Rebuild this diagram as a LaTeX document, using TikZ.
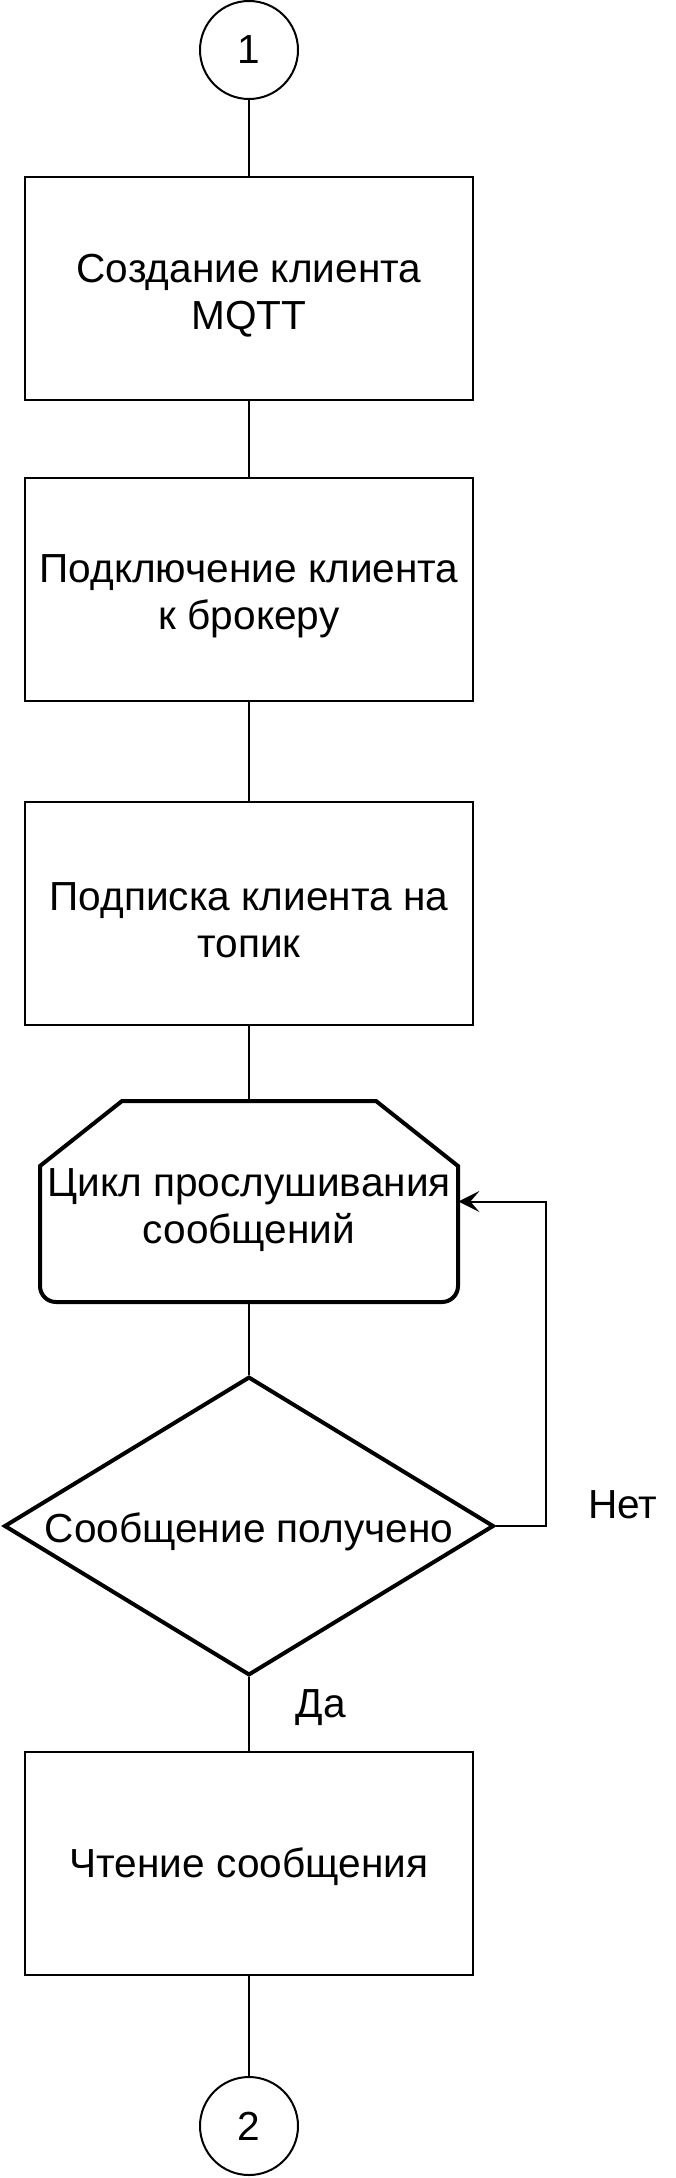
\documentclass[tikz,border=0pt]{standalone}
\usepackage{fontspec}
\setmainfont{Liberation Sans}
\usetikzlibrary{shapes.geometric,arrows.meta}
\newcommand{\lift}[1]{\rule{0pt}{#1}}

\begin{document}
\begin{tikzpicture}[x=0.5pt,y=-0.5pt,
    font=\fontsize{20.3}{23.5}\selectfont,
    block/.style={draw, rectangle, line width=1pt, minimum width=224pt, minimum height=111.5pt, align=center, inner sep=0pt},
    conn/.style={draw, circle, line width=1pt, minimum size=49pt, inner sep=0pt},
    link/.style={line width=1pt}]
    \useasboundingbox (0,0) rectangle (675,2178);
    % connectors 1 and 2
    \node[conn] (c1) at (249,50) {1};
    \node[conn] (c2) at (249,2126) {2};
    % steps
    \node[block] (create) at (249,288.5) {\lift{21pt}Создание клиента\\MQTT};
    \node[block] (connect) at (249,589) {\lift{21pt}Подключение клиента\\к брокеру};
    \node[block] (sub) at (249,913.5) {\lift{21pt}Подписка клиента на\\топик};
    \node[block] (read) at (249,1863.5) {\lift{18pt}Чтение сообщения};
    % loop limit
    \node[minimum width=209pt, minimum height=100.5pt, align=center, inner sep=0pt] (loop) at (249,1201.5) {\lift{23pt}Цикл прослушивания\\сообщений};
    \draw[line width=2pt] (40,1166) -- (122,1101) -- (376,1101) -- (458,1166) -- (458,1230)
        [rounded corners=8pt] -- (458,1302) -- (40,1302) -- (40,1230) [sharp corners] -- cycle;
    % decision
    \node[diamond, draw, line width=2pt, minimum width=243pt, minimum height=149pt, aspect=1.64, inner sep=0pt] (recv) at (249,1526) {\lift{20.5pt}Сообщение получено};
    \node (no) at (623,1505) {Нет};
    \node (yes) at (321,1708) {Да};
    \draw[link] (c1) -- (create);
    \draw[link] (create) -- (connect);
    \draw[link] (connect) -- (sub);
    \draw[link] (sub) -- (loop);
    \draw[link] (loop) -- (recv);
    \draw[link] (recv) -- (read);
    \draw[link] (read) -- (c2);
    \draw[link, -{Stealth[length=10.5pt, width=10.5pt, inset=4.5pt]}] (recv.east) -- ++(50,0) |- (loop.east);
\end{tikzpicture}
\end{document}
